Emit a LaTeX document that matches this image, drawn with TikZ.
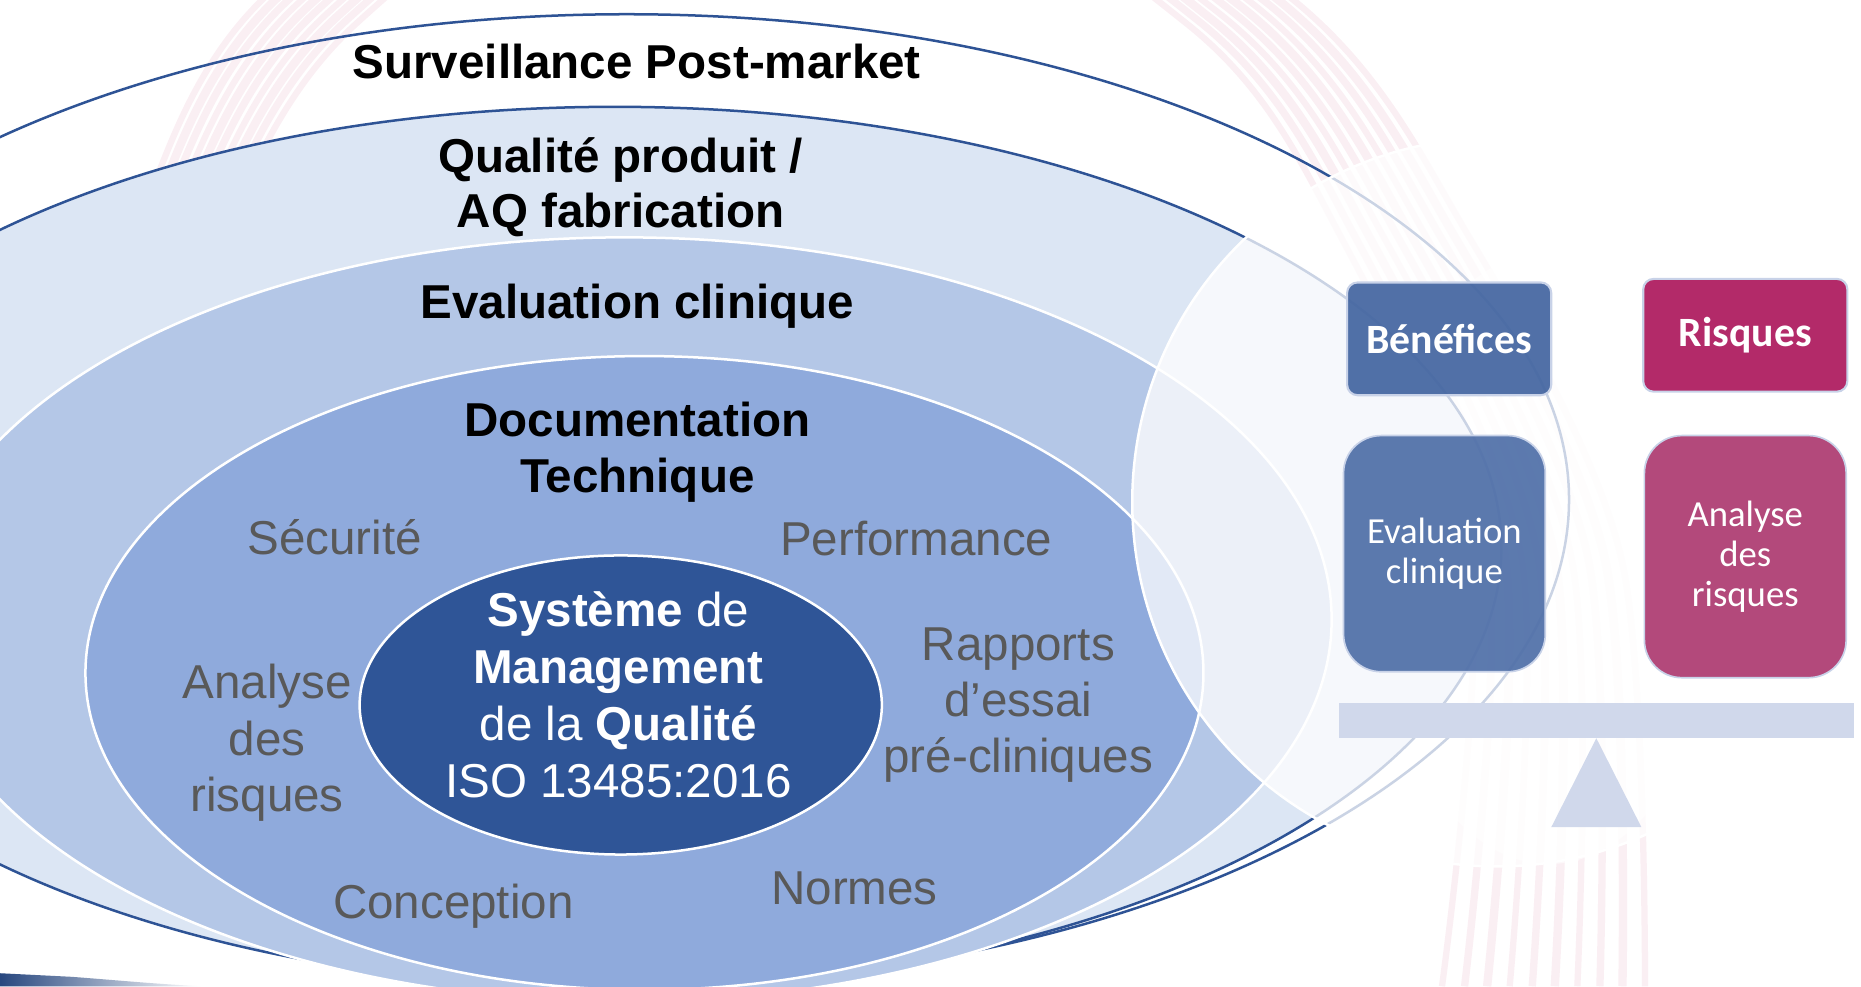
\documentclass[tikz,border=0pt]{standalone}
\usepackage{fontspec}
\setmainfont{Liberation Sans}
\newfontfamily\calibri{Carlito}
\usetikzlibrary{positioning}

\definecolor{ringline}{RGB}{46,83,149}
\definecolor{qualfill}{RGB}{220,230,244}
\definecolor{evalfill}{RGB}{180,199,231}
\definecolor{docfill}{RGB}{143,170,220}
\definecolor{smqfill}{RGB}{47,85,151}
\definecolor{labelgray}{RGB}{89,89,89}
\definecolor{benblue}{RGB}{68,102,161}
\definecolor{benbluelt}{RGB}{80,112,168}
\definecolor{riskred}{RGB}{174,26,94}
\definecolor{riskredlt}{RGB}{174,60,114}
\definecolor{beam}{RGB}{208,216,235}
\definecolor{boxedge}{RGB}{200,210,232}
\definecolor{logopink}{RGB}{214,110,150}

\tikzset{
  ringtext/.style={font=\fontsize{11.4}{13.2}\selectfont\bfseries, align=center},
  topictext/.style={font=\fontsize{11.4}{13.5}\selectfont, text=labelgray, align=center},
  smqtext/.style={font=\fontsize{11.4}{13.7}\selectfont, text=white, align=center},
  headbox/.style={draw=boxedge, line width=0.5pt, rounded corners=2.5pt, minimum width=1.72cm, minimum height=0.95cm,
    text=white, font=\calibri\fontsize{10}{12}\selectfont\bfseries, fill opacity=0.93, text opacity=1},
  itembox/.style={draw=boxedge, line width=0.4pt, rounded corners=9pt, minimum width=1.7cm, minimum height=1.99cm,
    text=white, align=center, font=\calibri\fontsize{8.8}{9.6}\selectfont, fill opacity=0.93, text opacity=1},
}

\begin{document}
\begin{tikzpicture}[x=0.1mm, y=-0.1mm]
  \useasboundingbox (0,0) rectangle (1568,831);
  \clip (0,0) rectangle (1568,831);
  \fill[white] (0,0) rectangle (1568,831);

  \foreach \k in {0,...,9}
    \draw[logopink, opacity=0.11, line width={1.5pt+0.25pt*mod(\k,3)}]
      plot[smooth] coordinates {({40-8*\k},620) ({170-8*\k},240) ({300-8*\k},{20-3*\k}) (640,{-190-8*\k})
        ({1000+9*\k},{20-3*\k}) ({1130+12*\k},200) ({1240+14*\k},470) ({1215+19*\k},831)};
  \fill[white, opacity=0.6] (1305,470) ellipse [x radius=150, y radius=258];

  \draw[ringline, line width=0.6pt] (528,421) ellipse [x radius=794, y radius=409];
  \draw[ringline, fill=qualfill, line width=0.6pt] (518,461) ellipse [x radius=747, y radius=371];
  \draw[white, fill=evalfill, line width=0.6pt] (526,522) ellipse [x radius=596, y radius=322];
  \draw[white, fill=docfill, line width=0.6pt] (543,567) ellipse [x radius=471, y radius=267];
  \draw[white, fill=smqfill, line width=0.6pt] (523,594) ellipse [x radius=220, y radius=126];
  \draw[white, fill=white, fill opacity=0.75, line width=0.6pt] (1261,423) circle [radius=307];

  \shade[left color=ringline!85!black, right color=white] (0,820) -- (60,823) .. controls (100,826) and (130,829) .. (170,831) -- (0,831) -- cycle;

  \coordinate (pivot) at (1345,622);
  \fill[beam] (1128,592) rectangle (1562,622);
  \fill[beam] (pivot) -- (1383,697) -- (1307,697) -- cycle;

  \node[headbox, fill=benblue] (benef) at (1221,285.5) {Bénéfices};
  \node[headbox, fill=riskred] (risk) at (1470.5,282.5) {Risques};
  \node[itembox, fill=benbluelt] (evalbox) at (1217,466.5) {Evaluation\\clinique};
  \node[itembox, fill=riskredlt, minimum height=2.04cm] (riskbox) at (1470.5,469) {Analyse\\des\\risques};

  \node[ringtext, anchor=base] (surv) at (536.5,66) {Surveillance Post-market};
  \node[ringtext] (qualprod) at (523,157.5) {Qualité produit /\\AQ fabrication};
  \node[ringtext, anchor=base] (evalclin) at (537,268) {Evaluation clinique};
  \node[ringtext] (doctech) at (537,381) {Documentation\\Technique};

  \node[topictext, anchor=base] (secu) at (282,467) {Sécurité};
  \node[topictext, anchor=base] (perf) at (772,468) {Performance};
  \node[topictext] (analyse) at (225,626) {Analyse\\des\\risques};
  \node[topictext] (rapports) at (858,594) {Rapports\\d’essai\\pré-cliniques};
  \node[topictext, anchor=base] (concep) at (382,774) {Conception};
  \node[topictext, anchor=base] (normes) at (720,762) {Normes};

  \node[smqtext] (smq) at (521,585.5) {\textbf{Système} de\\\textbf{Management}\\de la \textbf{Qualité}\\ISO 13485:2016};
\end{tikzpicture}
\end{document}
